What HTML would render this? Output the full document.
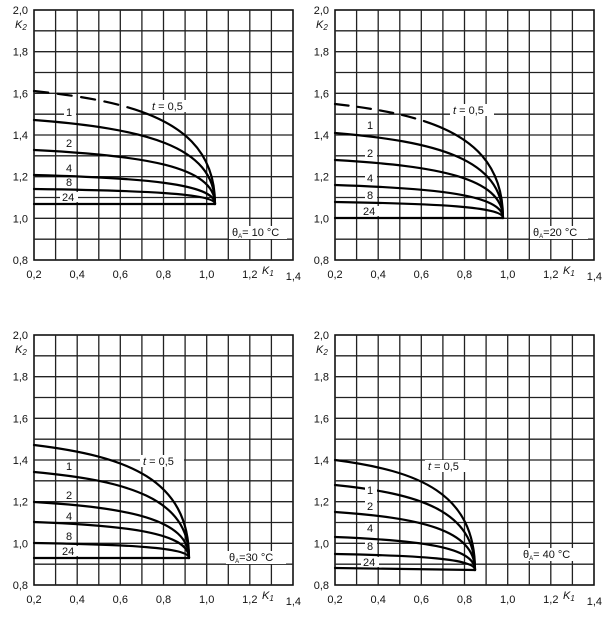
<!DOCTYPE html>
<html><head><meta charset="utf-8"><style>
html,body{margin:0;padding:0;background:#fff}
svg{display:block;font-family:"Liberation Sans",sans-serif;}
.g{stroke:#222;stroke-width:1.3;fill:none}
.c{stroke:#000;stroke-width:2.2;fill:none;stroke-linecap:round}
text{font-size:11px;fill:#111}
</style></head><body>
<svg width="604" height="622" viewBox="0 0 604 622" xmlns="http://www.w3.org/2000/svg">
<defs>
<g id="grid">
<rect x="0" y="0" width="259" height="250" fill="none" stroke="#111" stroke-width="1.6"/>
<path class="g" d="M21.6,0V250M43.2,0V250M64.8,0V250M86.3,0V250M107.9,0V250M129.5,0V250M151.1,0V250M172.7,0V250M194.3,0V250M215.8,0V250M237.4,0V250
M0,20.8H259M0,41.7H259M0,62.5H259M0,83.3H259M0,104.2H259M0,125H259M0,145.8H259M0,166.7H259M0,187.5H259M0,208.3H259M0,229.2H259"/>
<g text-anchor="end">
<text x="-6" y="4">2,0</text><text x="-6" y="45.7">1,8</text><text x="-6" y="87.3">1,6</text>
<text x="-6" y="129">1,4</text><text x="-6" y="170.7">1,2</text><text x="-6" y="212.3">1,0</text><text x="-6" y="254">0,8</text>
</g>
<text x="-19" y="18" font-style="italic">K<tspan font-size="8" dy="2">2</tspan></text>
<g text-anchor="middle">
<text x="0" y="268">0,2</text><text x="43.2" y="268">0,4</text><text x="86.3" y="268">0,6</text>
<text x="129.5" y="268">0,8</text><text x="172.7" y="268">1,0</text><text x="215.8" y="268">1,2</text>
</g>
<text x="267" y="270" text-anchor="end">1,4</text>
<text x="228" y="264" font-style="italic">K<tspan font-size="8" dy="2">1</tspan></text>
</g>
</defs>

<!-- Panel 1 -->
<g transform="translate(34,10)">
<use href="#grid"/>
<path class="c" pathLength="100" stroke-dasharray="6 4 6 4 6 4 6 4 60 0" d="M0,81 C108.6,92.3 181,114.9 181,194"/>
<path class="c" d="M0,110 C108.6,118.4 181,135.2 181,194"/>
<path class="c" d="M0,140 C108.6,145.4 181,156.2 181,194"/>
<path class="c" d="M0,165 C108.6,167.9 181,173.7 181,194"/>
<path class="c" d="M0,179 C108.6,180.5 181,183.5 181,194"/>
<path class="c" d="M0,194 H181"/>
<g fill="#fff"><rect x="30" y="96" width="12" height="11"/><rect x="30" y="127" width="12" height="11"/><rect x="30" y="153" width="12" height="10"/><rect x="30" y="168" width="12" height="9"/><rect x="26" y="182" width="18" height="10"/><rect x="115" y="90" width="44" height="12"/><rect x="195" y="216" width="58" height="13"/></g>
<text x="32" y="106">1</text><text x="32" y="137">2</text><text x="32" y="162">4</text><text x="32" y="176">8</text><text x="28" y="191">24</text>
<text x="118" y="100"><tspan font-style="italic">t</tspan> = 0,5</text>
<text x="198" y="226">θ<tspan font-size="6" dy="2">A</tspan><tspan dy="-2">= 10 °C</tspan></text>
</g>

<!-- Panel 2 -->
<g transform="translate(335,10)">
<use href="#grid"/>
<path class="c" pathLength="100" stroke-dasharray="6 4 6 4 6 4 6 4 60 0" d="M0,94 C100.8,105.4 168,128.2 168,208"/>
<path class="c" d="M0,123 C100.8,131.5 168,148.5 168,208"/>
<path class="c" d="M0,150 C100.8,155.8 168,167.4 168,208"/>
<path class="c" d="M0,175 C100.8,178.3 168,184.9 168,208"/>
<path class="c" d="M0,192 C100.8,193.6 168,196.8 168,208"/>
<path class="c" d="M0,208 H168"/>
<g fill="#fff"><rect x="30" y="109" width="12" height="11"/><rect x="30" y="138" width="12" height="10"/><rect x="30" y="163" width="12" height="10"/><rect x="30" y="181" width="12" height="9"/><rect x="26" y="196" width="18" height="10"/><rect x="115" y="94" width="44" height="12"/><rect x="195" y="216" width="58" height="13"/></g>
<text x="32" y="119">1</text><text x="32" y="147">2</text><text x="32" y="172">4</text><text x="32" y="189">8</text><text x="28" y="205">24</text>
<text x="118" y="104"><tspan font-style="italic">t</tspan> = 0,5</text>
<text x="198" y="226">θ<tspan font-size="6" dy="2">A</tspan><tspan dy="-2">=20 °C</tspan></text>
</g>

<!-- Panel 3 -->
<g transform="translate(34,335)">
<use href="#grid"/>
<path class="c" d="M0,110 C93,121.3 155,143.9 155,223"/>
<path class="c" d="M0,137 C93,145.6 155,162.8 155,223"/>
<path class="c" d="M0,167 C93,172.6 155,183.8 155,223"/>
<path class="c" d="M0,187 C93,190.6 155,197.8 155,223"/>
<path class="c" d="M0,208 C93,209.5 155,212.5 155,223"/>
<path class="c" d="M0,223 H155"/>
<g fill="#fff"><rect x="30" y="126" width="12" height="10"/><rect x="30" y="154" width="12" height="11"/><rect x="30" y="176" width="12" height="10"/><rect x="30" y="197" width="12" height="9"/><rect x="26" y="211" width="18" height="10"/><rect x="106" y="120" width="44" height="12"/><rect x="192" y="216" width="60" height="13"/></g>
<text x="32" y="135">1</text><text x="32" y="164">2</text><text x="32" y="185">4</text><text x="32" y="205">8</text><text x="28" y="220">24</text>
<text x="109" y="130"><tspan font-style="italic">t</tspan> = 0,5</text>
<text x="195" y="226">θ<tspan font-size="6" dy="2">A</tspan><tspan dy="-2">=30 °C</tspan></text>
</g>

<!-- Panel 4 -->
<g transform="translate(335,335)">
<use href="#grid"/>
<path class="c" d="M0,125 C84,136 140,158 140,235"/>
<path class="c" d="M0,150 C84,158.5 140,175.5 140,235"/>
<path class="c" d="M0,177 C84,182.8 140,194.4 140,235"/>
<path class="c" d="M0,202 C84,205.3 140,211.9 140,235"/>
<path class="c" d="M0,219 C84,220.6 140,223.8 140,235"/>
<path class="c" d="M0,233 L140,235"/>
<g fill="#fff"><rect x="30" y="150" width="12" height="10"/><rect x="30" y="165" width="12" height="11"/><rect x="30" y="188" width="12" height="10"/><rect x="30" y="207" width="12" height="9"/><rect x="26" y="222" width="18" height="10"/><rect x="90" y="125" width="44" height="12"/><rect x="185" y="213" width="62" height="13"/></g>
<text x="32" y="159">1</text><text x="32" y="175">2</text><text x="32" y="197">4</text><text x="32" y="215">8</text><text x="28" y="231">24</text>
<text x="93" y="135"><tspan font-style="italic">t</tspan> = 0,5</text>
<text x="188" y="223">θ<tspan font-size="6" dy="2">A</tspan><tspan dy="-2">= 40 °C</tspan></text>
</g>
</svg>
</body></html>
